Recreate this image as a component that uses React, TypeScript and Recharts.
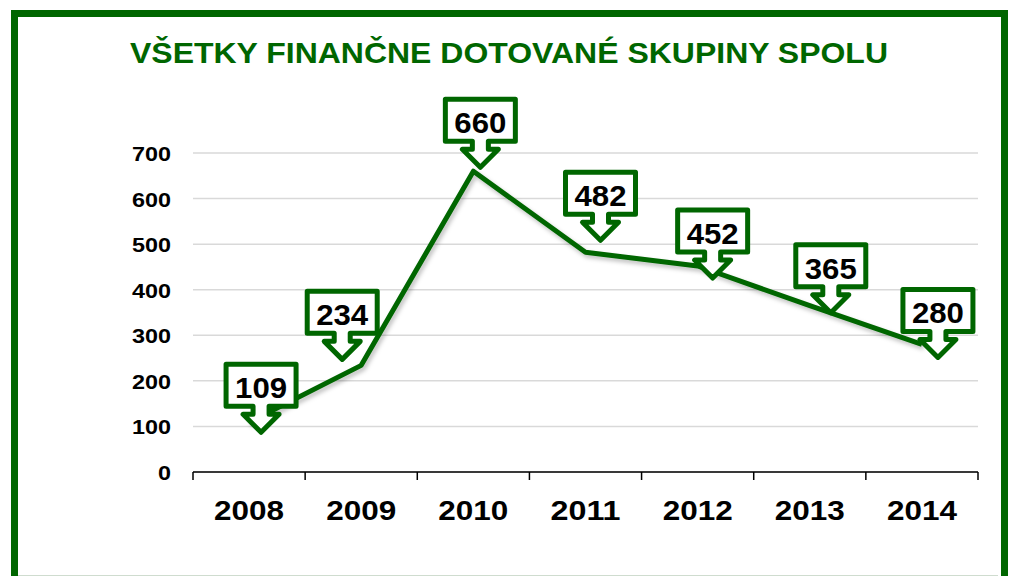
import { LineChart, Line, XAxis, YAxis, CartesianGrid, LabelList } from 'recharts';

const years = ['2008', '2009', '2010', '2011', '2012', '2013', '2014'];
const totals = [109, 234, 660, 482, 452, 365, 280];
const yTicks = [0, 100, 200, 300, 400, 500, 600, 700];

// hand placed callouts, offset of the pointer tip from each point
const calloutShift = [
  [12, 13], [-19, -3], [7, -1], [15, -9], [15, 15], [21, 10], [16, 16],
];

const GREEN = '#006600';
const PLOT_LEFT = 193;
const PLOT_RIGHT = 978;
const BAND = (PLOT_RIGHT - PLOT_LEFT) / years.length;

const data = years.map((year, i) => ({ year, value: totals[i] }));

function YearTick(props: any) {
  const { x, y, payload, index } = props;
  const left = x - BAND / 2;
  return (
    <g>
      <line x1={left} y1={y} x2={left} y2={y + 8} stroke="#000" strokeWidth={1.5} />
      {index === years.length - 1 && (
        <line x1={x + BAND / 2} y1={y} x2={x + BAND / 2} y2={y + 8} stroke="#000" strokeWidth={1.5} />
      )}
      <text
        x={x}
        y={y + 48}
        textAnchor="middle"
        fontFamily="Liberation Sans, Arial, sans-serif"
        fontWeight="bold"
        fontSize={28}
        textLength={70}
        lengthAdjust="spacingAndGlyphs"
        fill="#000"
      >
        {payload.value}
      </text>
    </g>
  );
}

function ValueTick(props: any) {
  const { y, payload } = props;
  const w = String(payload.value).length * 13;
  return (
    <text
      x={171}
      y={y + 8}
      textAnchor="end"
      fontFamily="Liberation Sans, Arial, sans-serif"
      fontWeight="bold"
      fontSize={21}
      textLength={w}
      lengthAdjust="spacingAndGlyphs"
      fill="#000"
    >
      {payload.value}
    </text>
  );
}

function Callout(props: any) {
  const { x, y, value, index } = props;
  const [dx, dy] = calloutShift[index];
  const tx = x + dx;
  const ty = y + dy;
  const d = [
    `M${tx - 35},${ty - 71}`,
    `L${tx + 35},${ty - 71}`,
    `L${tx + 35},${ty - 29}`,
    `L${tx + 8},${ty - 29}`,
    `L${tx + 8},${ty - 21}`,
    `L${tx + 18},${ty - 21}`,
    `L${tx},${ty - 3}`,
    `L${tx - 18},${ty - 21}`,
    `L${tx - 8},${ty - 21}`,
    `L${tx - 8},${ty - 29}`,
    `L${tx - 35},${ty - 29}`,
    'Z',
  ].join(' ');
  return (
    <g>
      <path d={d} fill="#fff" stroke={GREEN} strokeWidth={5} strokeLinejoin="round" />
      <text
        x={tx}
        y={ty - 37}
        textAnchor="middle"
        fontFamily="Liberation Sans, Arial, sans-serif"
        fontWeight="bold"
        fontSize={30}
        textLength={52}
        lengthAdjust="spacingAndGlyphs"
        fill="#000"
      >
        {value}
      </text>
    </g>
  );
}

export default function App() {
  return (
    <div
      style={{
        position: 'absolute',
        left: 0,
        top: 0,
        width: 1009,
        height: 576,
        background: '#fff',
        overflow: 'hidden',
      }}
    >
      <div
        style={{
          position: 'absolute',
          left: 11,
          top: 10,
          width: 983,
          height: 600,
          border: `7px solid ${GREEN}`,
        }}
      />
      <div style={{ position: 'absolute', left: 18, top: 575, width: 980, height: 1, background: '#cfdccf' }} />
      <svg style={{ position: 'absolute', left: 0, top: 0 }} width={1009} height={80}>
        <text
          x={130}
          y={63}
          fontFamily="Liberation Sans, Arial, sans-serif"
          fontWeight="bold"
          fontSize={30}
          textLength={758}
          lengthAdjust="spacingAndGlyphs"
          fill={GREEN}
        >
          VŠETKY FINANČNE DOTOVANÉ SKUPINY SPOLU
        </text>
      </svg>
      <div style={{ position: 'absolute', left: 0, top: 0 }}>
        <LineChart
          width={1009}
          height={576}
          data={data}
          margin={{ top: 153, right: 1009 - PLOT_RIGHT, bottom: 0, left: PLOT_LEFT - 60 }}
        >
          <defs>
            <filter id="lineShadow" x="-10%" y="-10%" width="120%" height="130%">
              <feDropShadow dx="2" dy="3" stdDeviation="2" floodColor="#000" floodOpacity="0.25" />
            </filter>
          </defs>
          <CartesianGrid vertical={false} stroke="#d9d9d9" strokeWidth={1.5} />
          <XAxis
            dataKey="year"
            scale="band"
            axisLine={{ stroke: '#000', strokeWidth: 1.5 }}
            tickLine={false}
            tickSize={0}
            tickMargin={0}
            height={104}
            tick={<YearTick />}
            interval={0}
          />
          <YAxis
            width={60}
            domain={[0, 700]}
            ticks={yTicks}
            axisLine={false}
            tickLine={false}
            tick={<ValueTick />}
            interval={0}
          />
          <Line
            dataKey="value"
            stroke="none"
            dot={false}
            activeDot={false}
            isAnimationActive={false}
          >
            <LabelList dataKey="value" content={<Callout />} />
          </Line>
          <Line
            dataKey="value"
            stroke={GREEN}
            strokeWidth={5}
            strokeLinejoin="round"
            filter="url(#lineShadow)"
            dot={false}
            activeDot={false}
            isAnimationActive={false}
          />
        </LineChart>
      </div>
    </div>
  );
}
